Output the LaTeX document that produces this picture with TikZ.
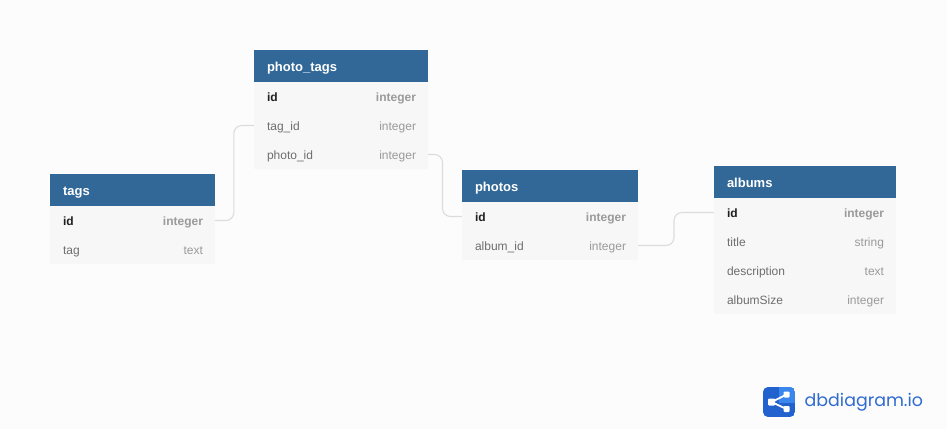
\documentclass[tikz,border=0pt]{standalone}
\usepackage{fontspec}
\setmainfont{Liberation Sans}
\newfontfamily\logofont{Poppins}
\definecolor{pagebg}{HTML}{FCFCFC}
\definecolor{headblue}{HTML}{316897}
\definecolor{rowgray}{HTML}{F7F7F7}
\definecolor{keyblack}{HTML}{1F1F1F}
\definecolor{fieldgray}{HTML}{6E6E6E}
\definecolor{typegray}{HTML}{9A9A9A}
\definecolor{linkgray}{HTML}{DCDCDC}
\definecolor{logodark}{HTML}{2162CF}
\definecolor{logolight}{HTML}{3B86EC}
\definecolor{logotext}{HTML}{2F6BD0}
\begin{document}
\begin{tikzpicture}[x=1pt, y=-1pt,
		head/.style = {fill=headblue, text=white, font=\fontsize{13}{15}\bfseries\selectfont, minimum height=32pt, inner xsep=13pt, inner ysep=0pt, text width=#1, align=left, text height=13pt, text depth=2.5pt},
		row/.style = {fill=rowgray, text=fieldgray, font=\fontsize{12}{14}\selectfont, minimum height=29pt, inner xsep=12.5pt, inner ysep=0pt, text width=#1, align=left, text height=12pt, text depth=2pt, execute at begin node=\hspace*{0.5pt}, execute at end node=\hspace*{-0.5pt}},
		link/.style = {draw=linkgray, line width=1.1pt, rounded corners=8pt},
		icondot/.style = {fill=white, rounded corners=1pt, inner sep=0pt, minimum width=#1, minimum height=#1}]
	\path[fill=pagebg, use as bounding box] (0,0) rectangle (947,429);
	
	% tags
	\node[head=139pt] (tags) at (132.5,190) {tags};
	\node[row=140pt] (tagsid) at (132.5,220.5) {\textbf{\textcolor{keyblack}{id}}\hfill\textbf{\textcolor{typegray}{integer}}};
	\node[row=140pt] (tagstag) at (132.5,249.5) {tag\hfill\textcolor{typegray}{text}};
	
	% photo_tags
	\node[head=148pt] (phototags) at (341,66) {photo\_tags};
	\node[row=149pt] (ptid) at (341,96.5) {\textbf{\textcolor{keyblack}{id}}\hfill\textbf{\textcolor{typegray}{integer}}};
	\node[row=149pt] (pttagid) at (341,125.5) {tag\_id\hfill\textcolor{typegray}{integer}};
	\node[row=149pt] (ptphotoid) at (341,154.5) {photo\_id\hfill\textcolor{typegray}{integer}};
	
	% photos
	\node[head=150pt] (photos) at (550,186) {photos};
	\node[row=151pt] (phid) at (550,216.5) {\textbf{\textcolor{keyblack}{id}}\hfill\textbf{\textcolor{typegray}{integer}}};
	\node[row=151pt] (phalbumid) at (550,245.5) {album\_id\hfill\textcolor{typegray}{integer}};
	
	% albums
	\node[head=156pt] (albums) at (805,182) {albums};
	\node[row=157pt] (alid) at (805,212.5) {\textbf{\textcolor{keyblack}{id}}\hfill\textbf{\textcolor{typegray}{integer}}};
	\node[row=157pt] (altitle) at (805,241.5) {title\hfill\textcolor{typegray}{string}};
	\node[row=157pt] (aldesc) at (805,270.5) {description\hfill\textcolor{typegray}{text}};
	\node[row=157pt] (alsize) at (805,299.5) {albumSize\hfill\textcolor{typegray}{integer}};
	
	% connectors
	\coordinate (bend1) at (233.8,170);
	\coordinate (bend2) at (442.5,185);
	\coordinate (bend3) at (674,229);
	\draw[link] (tagsid.east) -| (bend1) |- (pttagid.west);
	\draw[link] (ptphotoid.east) -| (bend2) |- (phid.west);
	\draw[link] (phalbumid.east) -| (bend3) |- (alid.west);
	
	% logo
	\begin{scope}
		\clip[rounded corners=5pt] (763,387) rectangle (795,417);
		\fill[logodark] (763,387) rectangle (795,417);
		\fill[logolight] (779,387) rectangle (795,403);
	\end{scope}
	\node[icondot=7pt] (dotleft) at (771.5,402) {};
	\node[icondot=6pt] (dottop) at (786.5,394.5) {};
	\node[icondot=6pt] (dotbottom) at (786.5,409) {};
	\draw[white, line width=1.8pt] (dottop.center) -- (dotleft.center) -- (dotbottom.center);
	\node[text=logotext, font=\logofont\fontsize{17.4}{21}\selectfont, anchor=west, inner sep=0pt] (logoname) at (804.5,402) {dbdiagram.io};
\end{tikzpicture}
\end{document}
